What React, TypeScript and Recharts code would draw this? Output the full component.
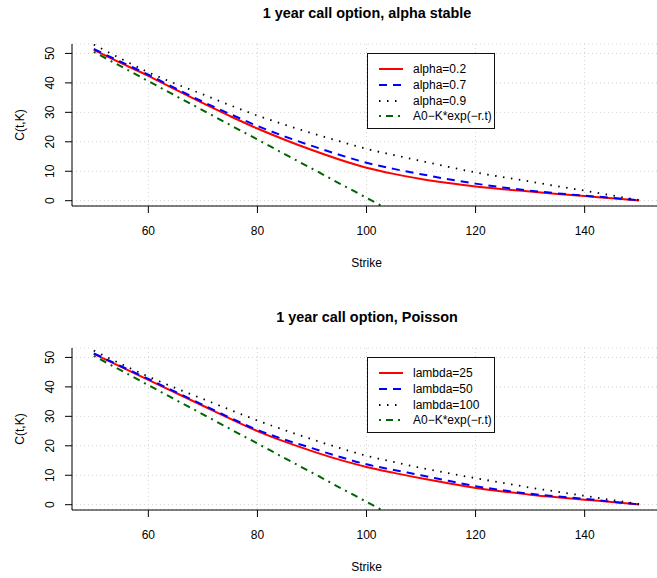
import React from 'react';
import { LineChart, Line, XAxis, YAxis, CartesianGrid, Legend } from 'recharts';

const FONT = '"Liberation Sans", Arial, Helvetica, sans-serif';

// Strike grid
const strikes = [50, 55, 60, 65, 70, 75, 80, 85, 90, 95, 100, 105, 110, 115, 120, 125, 130, 135, 140, 145, 150];

// Panel 1: alpha stable
const alpha02 = [51.2, 46.7, 42.4, 37.7, 33.1, 28.7, 24.5, 20.7, 17.2, 14.0, 11.2, 9.1, 7.4, 6.0, 4.8, 3.9, 3.1, 2.3, 1.6, 0.8, 0.1];
const alpha07 = [51.5, 47.1, 42.8, 38.1, 33.6, 29.4, 25.4, 21.8, 18.6, 15.6, 12.9, 10.8, 9.0, 7.3, 5.8, 4.5, 3.4, 2.5, 1.7, 1.0, 0.1];
const alpha09 = [53.0, 48.2, 43.6, 39.7, 36.1, 32.4, 28.9, 25.8, 22.9, 20.2, 17.6, 15.5, 13.5, 11.5, 9.6, 8.0, 6.5, 4.9, 3.4, 1.8, 0.2];

// Panel 2: Poisson
const lambda25 = [51.2, 46.8, 42.4, 38.0, 33.6, 29.2, 25.0, 21.4, 18.2, 15.3, 12.8, 10.8, 9.0, 7.3, 5.7, 4.5, 3.4, 2.5, 1.7, 0.9, 0.1];
const lambda50 = [51.4, 47.0, 42.7, 38.3, 33.9, 29.5, 25.4, 22.1, 19.2, 16.3, 13.7, 11.8, 10.0, 8.1, 6.3, 4.9, 3.7, 2.8, 2.0, 1.0, 0.1];
const lambda100 = [52.3, 47.8, 43.5, 39.6, 35.9, 32.2, 28.6, 25.3, 22.2, 19.3, 16.6, 14.5, 12.5, 10.7, 9.0, 7.4, 5.8, 4.4, 3.0, 1.6, 0.2];

// Intrinsic value A0 - K*exp(-r t) (straight line, clipped below the axis)
const intrinsic: (number | null)[] = [50.5, 45.6, 40.6, 35.6, 30.7, 25.7, 20.8, 15.8, 10.9, 5.9, 1.0, -4.0, null, null, null, null, null, null, null, null, null];

const xTicks = [60, 80, 100, 120, 140];
const yTicks = [0, 10, 20, 30, 40, 50];

type Series = { key: string; name: string; color: string; dash?: string; width: number; type: 'monotone' | 'linear' };

const panel1Series: Series[] = [
  { key: 's1', name: 'alpha=0.2', color: '#ff0000', width: 2, type: 'monotone' },
  { key: 's2', name: 'alpha=0.7', color: '#0000ff', dash: '8 6', width: 2, type: 'monotone' },
  { key: 's3', name: 'alpha=0.9', color: '#000000', dash: '1.5 6.5', width: 1.8, type: 'monotone' },
  { key: 's4', name: 'A0\u2212K*exp(\u2212r.t)', color: '#006400', dash: '2 5 7 5', width: 2, type: 'linear' },
];
const panel2Series: Series[] = [
  { key: 's1', name: 'lambda=25', color: '#ff0000', width: 2, type: 'monotone' },
  { key: 's2', name: 'lambda=50', color: '#0000ff', dash: '8 6', width: 2, type: 'monotone' },
  { key: 's3', name: 'lambda=100', color: '#000000', dash: '1.5 6.5', width: 1.8, type: 'monotone' },
  { key: 's4', name: 'A0\u2212K*exp(\u2212r.t)', color: '#006400', dash: '2 5 7 5', width: 2, type: 'linear' },
];

const data1 = strikes.map((k, i) => ({ strike: k, s1: alpha02[i], s2: alpha07[i], s3: alpha09[i], s4: intrinsic[i] }));
const data2 = strikes.map((k, i) => ({ strike: k, s1: lambda25[i], s2: lambda50[i], s3: lambda100[i], s4: intrinsic[i] }));

const YTick = (props: any) => {
  const { x, y, payload } = props;
  const bx = x - 8.7;
  return (
    <text x={bx} y={y} transform={`rotate(-90 ${bx} ${y})`} textAnchor="middle" fontSize={12} fill="#000" fontFamily={FONT}>
      {payload.value}
    </text>
  );
};

const makeLegend = (series: Series[]) => () => (
  <div
    style={{
      position: 'relative',
      width: 128,
      height: 76,
      boxSizing: 'border-box',
      border: '1px solid #111',
      background: '#fff',
      fontFamily: FONT,
      fontSize: 12,
      color: '#000',
    }}
  >
    {series.map((s, i) => (
      <div key={s.key} style={{ position: 'absolute', left: 0, top: 15.8 + i * 15.6 - 8, height: 16, width: 128 }}>
        <svg width={40} height={16} style={{ position: 'absolute', left: 0, top: 0 }}>
          <line x1={11} y1={8} x2={35} y2={8} stroke={s.color} strokeWidth={s.width} strokeDasharray={s.dash} />
        </svg>
        <span style={{ position: 'absolute', left: 45, top: 0, lineHeight: '16px', whiteSpace: 'nowrap' }}>{s.name}</span>
      </div>
    ))}
  </div>
);

const Panel = ({ top, title, data, series }: { top: number; title: string; data: any[]; series: Series[] }) => (
  <div style={{ position: 'absolute', left: 0, top, width: 680, height: 290 }}>
    <div
      style={{
        position: 'absolute',
        left: 367,
        top: 5.2,
        transform: 'translateX(-50%)',
        whiteSpace: 'nowrap',
        fontFamily: FONT,
        fontWeight: 'bold',
        fontSize: 14.4,
        lineHeight: '16px',
        color: '#000',
        zIndex: 2,
      }}
    >
      {title}
    </div>
    <LineChart width={680} height={290} data={data} margin={{ top: 44, right: 19, left: 0, bottom: 0 }} style={{ fontFamily: FONT }}>
      <CartesianGrid stroke="#d3d3d3" strokeDasharray="1 3" />
      <XAxis
        dataKey="strike"
        type="number"
        domain={[46, 154]}
        ticks={xTicks}
        interval={0}
        allowDataOverflow
        height={84}
        tickSize={7}
        tickMargin={13}
        tick={{ fontSize: 12, fill: '#000', fontFamily: FONT }}
        tickLine={{ stroke: '#000' }}
        axisLine={{ stroke: '#000' }}
        label={{ value: 'Strike', position: 'insideBottom', offset: 23, fontSize: 12, fill: '#000', fontFamily: FONT }}
      />
      <XAxis xAxisId="top" orientation="top" dataKey="strike" type="number" domain={[46, 154]} height={0} tick={false} tickLine={false} axisLine={{ stroke: '#000' }} />
      <YAxis
        type="number"
        domain={[-1.8, 53.2]}
        ticks={yTicks}
        interval={0}
        allowDataOverflow
        width={72}
        tickSize={7}
        tickMargin={2}
        tick={<YTick />}
        tickLine={{ stroke: '#000' }}
        axisLine={{ stroke: '#000' }}
        label={{
          content: (p: any) => {
            const vb = p.viewBox || {};
            const cy = vb.height ? vb.y + vb.height / 2 : 125;
            const bx = 24.3;
            return (
              <text x={bx} y={cy} transform={`rotate(-90 ${bx} ${cy})`} textAnchor="middle" fontSize={12} fill="#000" fontFamily={FONT}>
                C(t,K)
              </text>
            );
          },
        }}
      />
      {series.map((s) => (
        <Line
          key={s.key}
          dataKey={s.key}
          name={s.name}
          type={s.type}
          stroke={s.color}
          strokeWidth={s.width}
          strokeDasharray={s.dash}
          dot={false}
          activeDot={false}
          isAnimationActive={false}
        />
      ))}
      <Legend
        layout="horizontal"
        verticalAlign="middle"
        align="center"
        content={makeLegend(series)}
        wrapperStyle={{ position: 'absolute', left: 367, top: 52.7, width: 128, height: 76 }}
      />
    </LineChart>
  </div>
);

export default function App() {
  return (
    <div style={{ position: 'fixed', left: 0, top: 0, width: 657, height: 578, overflow: 'hidden', background: '#fff' }}>
      <Panel top={0} title="1 year call option, alpha stable" data={data1} series={panel1Series} />
      <Panel top={304} title="1 year call option, Poisson" data={data2} series={panel2Series} />
    </div>
  );
}
